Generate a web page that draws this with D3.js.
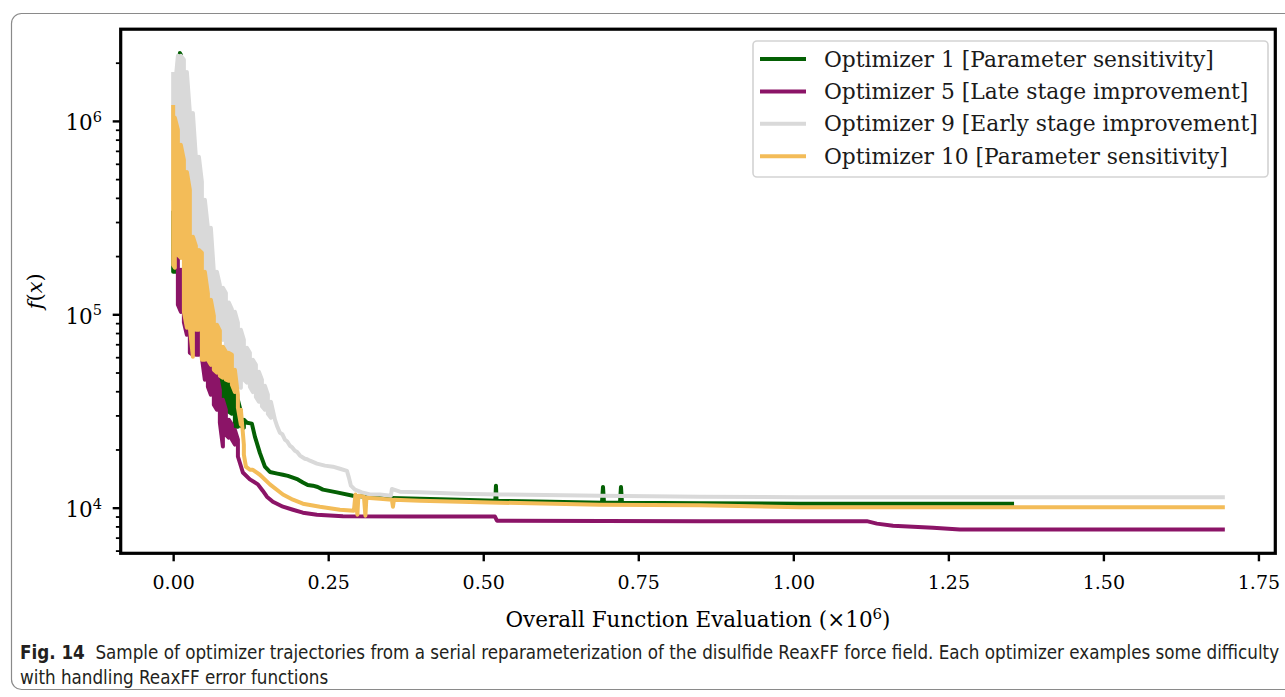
<!DOCTYPE html>
<html>
<head>
<meta charset="utf-8">
<script src="https://cdn.jsdelivr.net/npm/d3@7"></script>
<style>
  body { margin: 0; background: #ffffff; }
  svg { display: block; }
</style>
</head>
<body>
<svg id="chart" width="1285" height="697"></svg>
<script>
// ---------------------------------------------------------------
// Optimizer trajectories: x in millions of function evaluations,
// y = f(x). Noisy early phase stored as [x, high, low] samples,
// the settled phase as [x, value] points.
// ---------------------------------------------------------------
const seriesNames = [
  "Optimizer 1 [Parameter sensitivity]",
  "Optimizer 5 [Late stage improvement]",
  "Optimizer 9 [Early stage improvement]",
  "Optimizer 10 [Parameter sensitivity]"
];
const seriesColors = ["#046004", "#8b1467", "#d9d9d9", "#f3bc58"];

const opt1Band = [
  [0.0000, 3.35e5, 1.66e5], [0.0044, 3.91e5, 1.66e5], [0.0084, 1.48e6, 7.97e5],
  [0.0108, 2.244e6, 1.48e6], [0.0124, 2.20e6, 7.97e5], [0.0189, 8.99e5, 2.73e5],
  [0.0237, 5.58e5, 2.15e5], [0.0285, 4.40e5, 1.91e5], [0.0334, 2.52e5, 1.74e5],
  [0.0382, 2.43e5, 1.51e5], [0.0430, 2.15e5, 1.19e5], [0.0479, 1.91e5, 9.94e4],
  [0.0527, 1.60e5, 8.32e4], [0.0576, 1.34e5, 6.96e4], [0.0624, 1.19e5, 6.18e4],
  [0.0673, 9.94e4, 5.68e4], [0.0721, 8.32e4, 5.17e4], [0.0769, 6.55e4, 4.07e4],
  [0.0802, 4.81e4, 3.41e4], [0.0850, 4.70e4, 3.21e4], [0.0898, 4.81e4, 3.13e4],
  [0.0947, 4.59e4, 3.06e4], [0.0995, 4.17e4, 2.62e4], [0.1044, 3.61e4, 2.62e4],
  [0.1092, 3.13e4, 2.65e4], [0.1140, 2.85e4, 2.59e4]
];
const opt1Tail = [
  [0.1189, 2.75e4], [0.1269, 2.72e4], [0.1318, 2.33e4], [0.1398, 1.92e4],
  [0.1479, 1.63e4], [0.1560, 1.53e4], [0.1680, 1.50e4], [0.1770, 1.48e4],
  [0.1850, 1.46e4], [0.1931, 1.43e4], [0.2010, 1.40e4], [0.2092, 1.35e4],
  [0.2170, 1.31e4], [0.2253, 1.30e4], [0.2330, 1.28e4], [0.2415, 1.24e4],
  [0.2640, 1.20e4], [0.2898, 1.153e4], [0.3334, 1.126e4], [0.3979, 1.113e4],
  [0.4624, 1.100e4], [0.5195, 1.087e4], [0.5205, 1.30e4], [0.5215, 1.087e4],
  [0.6076, 1.074e4], [0.6915, 1.061e4], [0.6931, 1.28e4], [0.6947, 1.061e4],
  [0.7205, 1.061e4], [0.7221, 1.28e4], [0.7237, 1.061e4], [0.8495, 1.055e4],
  [1.0108, 1.049e4], [1.3527, 1.049e4]
];

const opt5Band = [
  [0.0076, 2.08e5, 1.12e5], [0.0124, 1.70e5, 1.03e5], [0.0173, 1.51e5, 9.10e4],
  [0.0221, 1.34e5, 7.83e4], [0.0269, 1.19e5, 6.32e4], [0.0318, 1.12e5, 6.18e4],
  [0.0366, 9.94e4, 6.18e4], [0.0415, 9.37e4, 6.18e4], [0.0463, 8.32e4, 5.96e4],
  [0.0511, 7.38e4, 4.59e4], [0.0560, 6.96e4, 4.22e4], [0.0608, 6.18e4, 3.84e4],
  [0.0656, 5.48e4, 3.41e4], [0.0705, 4.87e4, 3.21e4], [0.0753, 4.07e4, 2.75e4],
  [0.0802, 3.61e4, 2.07e4], [0.0850, 3.21e4, 2.38e4], [0.0898, 2.85e4, 2.30e4],
  [0.0947, 2.69e4, 2.25e4], [0.0995, 2.53e4, 2.12e4], [0.1044, 2.25e4, 1.84e4]
];
const opt5Tail = [
  [0.1124, 1.52e4], [0.1237, 1.40e4], [0.1366, 1.32e4], [0.1447, 1.22e4],
  [0.1511, 1.14e4], [0.1608, 1.074e4], [0.1770, 1.012e4], [0.1931, 9.76e3],
  [0.2092, 9.42e3], [0.2318, 9.20e3], [0.2737, 9.04e3], [0.3818, 8.99e3],
  [0.5189, 8.99e3], [0.5221, 8.57e3], [0.8495, 8.52e3], [1.1185, 8.52e3],
  [1.1347, 8.27e3], [1.1608, 8.07e3], [1.2253, 7.88e3], [1.2685, 7.717e3],
  [1.6926, 7.717e3]
];

const opt9Band = [
  [0.0000, 1.75e6, 3.91e5], [0.0027, 1.48e6, 3.91e5], [0.0076, 2.17e6, 4.40e5],
  [0.0124, 2.17e6, 3.91e5], [0.0173, 2.07e6, 3.47e5], [0.0221, 1.79e6, 3.27e5],
  [0.0269, 1.11e6, 2.73e5], [0.0318, 1.10e6, 2.29e5], [0.0366, 6.52e5, 2.03e5],
  [0.0415, 6.52e5, 1.96e5], [0.0463, 4.84e5, 1.80e5], [0.0511, 3.91e5, 1.42e5],
  [0.0560, 2.80e5, 1.19e5], [0.0608, 2.80e5, 1.06e5], [0.0656, 1.66e5, 9.37e4],
  [0.0705, 1.66e5, 8.32e4], [0.0753, 1.42e5, 7.83e4], [0.0802, 1.37e5, 7.38e4],
  [0.0850, 1.29e5, 6.40e4], [0.0898, 1.15e5, 5.82e4], [0.0947, 1.06e5, 5.48e4],
  [0.0995, 1.03e5, 5.05e4], [0.1044, 9.04e4, 4.59e4], [0.1092, 8.32e4, 4.17e4],
  [0.1140, 7.38e4, 4.59e4], [0.1189, 6.71e4, 4.43e4], [0.1237, 6.32e4, 4.22e4],
  [0.1285, 5.82e4, 3.96e4], [0.1334, 5.48e4, 3.74e4], [0.1382, 5.05e4, 3.53e4],
  [0.1431, 4.59e4, 3.35e4], [0.1479, 4.27e4, 3.21e4], [0.1527, 3.84e4, 3.06e4],
  [0.1576, 3.53e4, 2.92e4]
];
const opt9Tail = [
  [0.1641, 2.85e4], [0.1680, 2.62e4], [0.1721, 2.44e4], [0.1760, 2.40e4],
  [0.1802, 2.25e4], [0.1840, 2.20e4], [0.1882, 2.09e4], [0.1920, 2.05e4],
  [0.1963, 1.97e4], [0.2000, 1.94e4], [0.2044, 1.86e4], [0.2124, 1.79e4],
  [0.2160, 1.78e4], [0.2205, 1.75e4], [0.2318, 1.69e4], [0.2447, 1.65e4],
  [0.2576, 1.63e4], [0.2689, 1.59e4], [0.2802, 1.55e4], [0.2834, 1.43e4],
  [0.2866, 1.30e4], [0.2931, 1.24e4], [0.3043, 1.20e4], [0.3173, 1.17e4],
  [0.3334, 1.17e4], [0.3511, 1.153e4], [0.3527, 1.25e4], [0.3560, 1.24e4],
  [0.3656, 1.21e4], [0.3979, 1.20e4], [0.4624, 1.18e4], [0.5269, 1.17e4],
  [0.6882, 1.153e4], [0.8495, 1.14e4], [1.0108, 1.133e4], [1.6926, 1.133e4]
];

const opt10Band = [
  [0.0000, 1.18e6, 1.80e5], [0.0027, 1.04e6, 1.74e5], [0.0076, 8.99e5, 2.03e5],
  [0.0124, 7.52e5, 1.96e5], [0.0173, 6.29e5, 1.03e5], [0.0221, 5.45e5, 8.52e4],
  [0.0269, 4.40e5, 8.52e4], [0.0318, 2.52e5, 6.03e4], [0.0366, 2.26e5, 8.32e4],
  [0.0415, 2.15e5, 8.32e4], [0.0463, 2.08e5, 5.82e4], [0.0511, 1.66e5, 5.82e4],
  [0.0560, 1.28e5, 5.82e4], [0.0608, 1.19e5, 5.48e4], [0.0656, 9.82e4, 5.17e4],
  [0.0705, 8.83e4, 4.99e4], [0.0753, 8.22e4, 4.81e4], [0.0802, 6.79e4, 4.70e4],
  [0.0850, 6.40e4, 4.59e4], [0.0898, 6.32e4, 4.53e4], [0.0947, 6.18e4, 4.32e4],
  [0.0995, 5.17e4, 3.97e4], [0.1044, 3.84e4, 3.29e4], [0.1092, 3.21e4, 2.69e4],
  [0.1140, 2.12e4, 1.88e4]
];
const opt10Tail = [
  [0.1173, 1.63e4], [0.1237, 1.57e4], [0.1285, 1.57e4], [0.1398, 1.48e4],
  [0.1560, 1.32e4], [0.1770, 1.17e4], [0.1931, 1.10e4], [0.2092, 1.049e4],
  [0.2366, 1.012e4], [0.2689, 9.76e3], [0.2915, 9.65e3], [0.2939, 1.17e4],
  [0.2971, 9.20e3], [0.2987, 1.153e4], [0.3076, 1.14e4], [0.3100, 9.09e3],
  [0.3116, 1.126e4], [0.3334, 1.113e4], [0.3527, 1.100e4], [0.3544, 1.012e4],
  [0.3560, 1.100e4], [0.3979, 1.087e4], [0.5269, 1.061e4], [0.6882, 1.036e4],
  [0.8495, 1.030e4], [1.0108, 1.006e4], [1.6926, 1.005e4]
];

// Axis ticks
const xTicks = [0, 0.25, 0.5, 0.75, 1.0, 1.25, 1.5, 1.75];
const yMajorTicks = [1e4, 1e5, 1e6];
const yMajorExponents = ["4", "5", "6"];
const yMinorTicks = [6e3, 7e3, 8e3, 9e3,
  2e4, 3e4, 4e4, 5e4, 6e4, 7e4, 8e4, 9e4,
  2e5, 3e5, 4e5, 5e5, 6e5, 7e5, 8e5, 9e5, 2e6];

const captionLine1Bold = "Fig. 14";
const captionLine1 = "Sample of optimizer trajectories from a serial reparameterization of the disulfide ReaxFF force field. Each optimizer examples some difficulty";
const captionLine2 = "with handling ReaxFF error functions";

// ---------------------------------------------------------------
const svg = d3.select("#chart");
const serif = "'DejaVu Serif', 'Liberation Serif', serif";

const plot = { left: 120.7, right: 1275.3, top: 29.2, bottom: 553.3 };

const x = d3.scaleLinear().domain([-0.0846, 1.7772]).range([plot.left, plot.right]);
const y = d3.scaleLog().domain([5809, 2.98e6]).range([plot.bottom, plot.top]);

// outer figure frame
svg.append("rect")
  .attr("x", 11.5).attr("y", 13.5)
  .attr("width", 1300).attr("height", 676)
  .attr("rx", 10).attr("ry", 10)
  .attr("fill", "none").attr("stroke", "#8a8a8a").attr("stroke-width", 1.2);

// trajectories: the noisy samples are walked high/low, low/high
// alternately so consecutive strokes join along the envelopes
const line = d3.line().x(d => x(d[0])).y(d => y(d[1]));
function tracePoints(band, tail) {
  const pts = [];
  band.forEach(([xv, hi, lo], i) => {
    if (i % 2 === 0) { pts.push([xv, hi]); pts.push([xv, lo]); }
    else { pts.push([xv, lo]); pts.push([xv, hi]); }
  });
  return pts.concat(tail);
}
const traces = [
  tracePoints(opt1Band, opt1Tail),
  tracePoints(opt5Band, opt5Tail),
  tracePoints(opt9Band, opt9Tail),
  tracePoints(opt10Band, opt10Tail)
];

svg.append("clipPath").attr("id", "plotclip")
  .append("rect")
  .attr("x", plot.left).attr("y", plot.top)
  .attr("width", plot.right - plot.left).attr("height", plot.bottom - plot.top);

svg.append("g").attr("clip-path", "url(#plotclip)")
  .selectAll("path.trace")
  .data(traces)
  .join("path")
  .attr("class", "trace")
  .attr("d", line)
  .attr("fill", "none")
  .attr("stroke", (d, i) => seriesColors[i])
  .attr("stroke-width", 4)
  .attr("stroke-linejoin", "round")
  .attr("stroke-linecap", "square");

// x axis
const xAxis = d3.axisBottom(x)
  .tickValues(xTicks)
  .tickFormat(d3.format(".2f"))
  .tickSize(8)
  .tickPadding(14);
const gx = svg.append("g").attr("transform", `translate(0,${plot.bottom})`).call(xAxis);
gx.select(".domain").remove();
gx.selectAll(".tick line").attr("stroke", "#000").attr("stroke-width", 2.4);
gx.selectAll(".tick text")
  .attr("fill", "#000")
  .style("font-family", serif)
  .style("font-size", "19px");

// y axis: minor ticks
const yMinorAxis = d3.axisLeft(y).tickValues(yMinorTicks).tickFormat("").tickSize(4.8);
const gyMinor = svg.append("g").attr("transform", `translate(${plot.left},0)`).call(yMinorAxis);
gyMinor.select(".domain").remove();
gyMinor.selectAll(".tick line").attr("stroke", "#000").attr("stroke-width", 1.8);

// y axis: major ticks with power-of-ten labels
const yMajorAxis = d3.axisLeft(y).tickValues(yMajorTicks).tickFormat("").tickSize(8);
const gyMajor = svg.append("g").attr("transform", `translate(${plot.left},0)`).call(yMajorAxis);
gyMajor.select(".domain").remove();
gyMajor.selectAll(".tick line").attr("stroke", "#000").attr("stroke-width", 2.4);

const yLabels = svg.append("g")
  .selectAll("text")
  .data(yMajorTicks)
  .join("text")
  .attr("x", 102)
  .attr("y", d => y(d) + 9.5)
  .attr("text-anchor", "end")
  .style("font-family", serif)
  .style("font-size", "21.5px")
  .attr("fill", "#000");
yLabels.append("tspan").text("10");
yLabels.append("tspan")
  .attr("dy", -8.5)
  .style("font-size", "14.5px")
  .text((d, i) => yMajorExponents[i]);

// spines
svg.append("rect")
  .attr("x", plot.left).attr("y", plot.top)
  .attr("width", plot.right - plot.left).attr("height", plot.bottom - plot.top)
  .attr("fill", "none").attr("stroke", "#000").attr("stroke-width", 3.2);

// axis titles
const xTitle = svg.append("text")
  .attr("x", (plot.left + plot.right) / 2)
  .attr("y", 627)
  .attr("text-anchor", "middle")
  .style("font-family", serif)
  .style("font-size", "21.5px")
  .attr("fill", "#000");
xTitle.append("tspan").text("Overall Function Evaluation (\u00d710");
xTitle.append("tspan").attr("dy", -8.5).style("font-size", "15px").text("6");
xTitle.append("tspan").attr("dy", 8.5).text(")");

const yTitle = svg.append("text")
  .attr("transform", `translate(42,${(plot.top + plot.bottom) / 2}) rotate(-90)`)
  .attr("text-anchor", "middle")
  .style("font-family", serif)
  .style("font-size", "21px")
  .attr("fill", "#000");
yTitle.append("tspan").style("font-style", "italic").text("f");
yTitle.append("tspan").text("(");
yTitle.append("tspan").style("font-style", "italic").text("x");
yTitle.append("tspan").text(")");

// legend
const legend = svg.append("g");
legend.append("rect")
  .attr("x", 753).attr("y", 41)
  .attr("width", 515).attr("height", 136)
  .attr("rx", 4).attr("ry", 4)
  .attr("fill", "#fff").attr("fill-opacity", 0.85)
  .attr("stroke", "#d3d3d3").attr("stroke-width", 1.6);
const legendRows = legend.selectAll("g.row")
  .data(seriesNames)
  .join("g")
  .attr("class", "row")
  .attr("transform", (d, i) => `translate(0,${59 + i * 32.4})`);
legendRows.append("line")
  .attr("x1", 760).attr("x2", 806)
  .attr("stroke", (d, i) => seriesColors[i])
  .attr("stroke-width", 4);
legendRows.append("text")
  .attr("x", 824).attr("y", 7.5)
  .style("font-family", serif)
  .style("font-size", "21.8px")
  .attr("fill", "#1a1a1a")
  .text(d => d);

// caption
const captionFont = "'Liberation Sans Narrow', 'DejaVu Sans Condensed', 'Liberation Sans', sans-serif";
const cap1 = svg.append("text")
  .style("font-family", captionFont)
  .style("font-size", "20px")
  .attr("fill", "#231f20");
cap1.append("tspan").style("font-weight", "bold").text(captionLine1Bold);
cap1.append("tspan").text("\u00a0\u00a0" + captionLine1);
const w1 = cap1.node().getComputedTextLength();
const sx = 1260 / w1;
cap1.attr("transform", `translate(20,659) scale(${sx},1)`);

svg.append("text")
  .style("font-family", captionFont)
  .style("font-size", "20px")
  .attr("fill", "#231f20")
  .attr("transform", `translate(20,684) scale(${sx},1)`)
  .text(captionLine2);
</script>
</body>
</html>
